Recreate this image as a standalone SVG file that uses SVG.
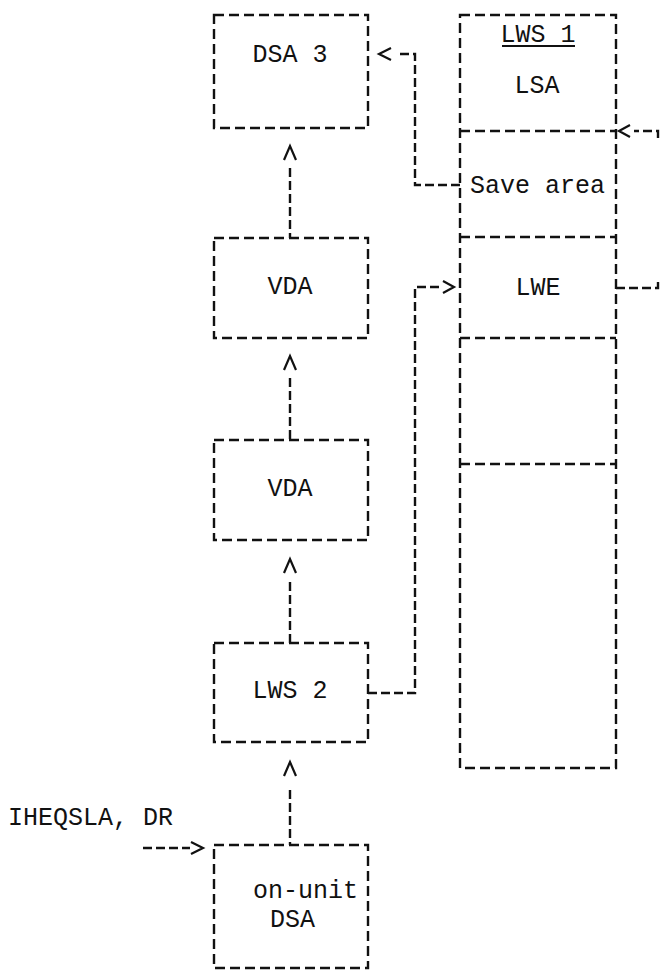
<svg xmlns="http://www.w3.org/2000/svg" width="661" height="972" viewBox="0 0 661 972">
<style>
.b{fill:none;stroke:#111;stroke-width:2.4;stroke-dasharray:10 5}
.c{fill:none;stroke:#111;stroke-width:2.4;stroke-dasharray:9 4}
.h{fill:none;stroke:#111;stroke-width:2.2}
.t{font-family:"Liberation Mono","Courier New",monospace;font-size:25px;fill:#111}
.m{text-anchor:middle}
</style>
<rect width="661" height="972" fill="#fff"/>
<g id="dsa3">
<rect class="b" x="214" y="15" width="154" height="113"/>
<text class="t m" x="290" y="62">DSA 3</text>
</g>
<g id="vda1">
<rect class="b" x="214" y="238" width="154" height="100"/>
<text class="t m" x="290" y="294">VDA</text>
</g>
<g id="vda2">
<rect class="b" x="214" y="440" width="154" height="100"/>
<text class="t m" x="290" y="496">VDA</text>
</g>
<g id="lws2">
<rect class="b" x="214" y="643" width="154" height="99"/>
<text class="t m" x="290" y="698">LWS 2</text>
</g>
<g id="onunit">
<rect class="b" x="214" y="845" width="154" height="123"/>
<text class="t" x="253" y="898">on-unit</text>
<text class="t" x="270" y="927">DSA</text>
</g>
<g id="lws1">
<rect class="b" x="460" y="15" width="156" height="753"/>
<text class="t m" x="538" y="42">LWS 1</text>
<line class="h" x1="502" y1="46" x2="575" y2="46"/>
<text class="t m" x="537" y="93">LSA</text>
<line class="b" x1="460" y1="131" x2="616" y2="131"/>
<text class="t" x="470" y="193">Save area</text>
<line class="b" x1="460" y1="237" x2="616" y2="237"/>
<text class="t m" x="538" y="295">LWE</text>
<line class="b" x1="460" y1="338" x2="616" y2="338"/>
<line class="b" x1="460" y1="464" x2="616" y2="464"/>
</g>
<g id="label">
<text class="t" x="8" y="825">IHEQSLA, DR</text>
</g>
<g id="connectors">
<line class="c" x1="290" y1="168" x2="290" y2="238"/>
<path class="h" d="M284 160 L290 146 L296 160"/>
<line class="c" x1="290" y1="378" x2="290" y2="440"/>
<path class="h" d="M284 370 L290 356 L296 370"/>
<line class="c" x1="290" y1="582" x2="290" y2="643"/>
<path class="h" d="M284 573 L290 559 L296 573"/>
<line class="c" x1="290" y1="790" x2="290" y2="845"/>
<path class="h" d="M284 776 L290 762 L296 776"/>
<path class="c" d="M460 185 H415 V54 H396"/>
<path class="h" d="M391 48 L379 54 L391 60"/>
<path class="c" d="M368 693 H415 V287 H440"/>
<path class="h" d="M443 281 L454 287 L443 293"/>
<path class="c" d="M616 288 H658 V281"/>
<path class="c" d="M658 138 V131 H634"/>
<path class="h" d="M630 125 L619 131 L630 137"/>
<path class="c" d="M143 848 H190"/>
<path class="h" d="M191 842 L203 848 L191 854"/>
</g>
</svg>
